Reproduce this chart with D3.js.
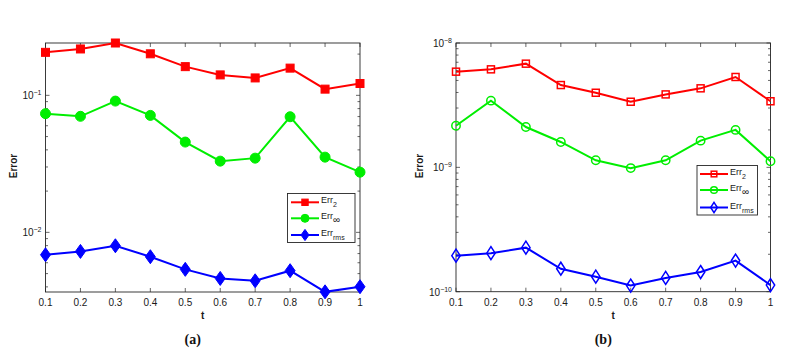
<!DOCTYPE html>
<html><head><meta charset="utf-8">
<script src="https://cdn.jsdelivr.net/npm/d3@7"></script>
<style>body{margin:0;background:#fff}svg{display:block}</style>
</head><body>
<svg id="c" width="800" height="352"></svg>
<script>
const tVals = [0.1,0.2,0.3,0.4,0.5,0.6,0.7,0.8,0.9,1.0];
const xTickLabels = ["0.1","0.2","0.3","0.4","0.5","0.6","0.7","0.8","0.9","1"];
// panel (a)
const a_err2 = [0.206,0.218,0.241,0.201,0.162,0.141,0.134,0.158,0.111,0.122];
const a_errInf = [0.0735,0.0703,0.0908,0.0714,0.0456,0.0331,0.0348,0.0698,0.0354,0.0275];
const a_errRms = [0.00686,0.00726,0.00798,0.00664,0.00537,0.00461,0.00443,0.00525,0.00368,0.00401];
// panel (b)
const b_err2 = [5.88e-9,6.14e-9,6.82e-9,4.59e-9,3.98e-9,3.37e-9,3.86e-9,4.32e-9,5.33e-9,3.40e-9];
const b_errInf = [2.16e-9,3.44e-9,2.11e-9,1.60e-9,1.14e-9,0.986e-9,1.14e-9,1.64e-9,2.00e-9,1.12e-9];
const b_errRms = [1.95e-10,2.04e-10,2.26e-10,1.53e-10,1.32e-10,1.12e-10,1.29e-10,1.44e-10,1.78e-10,1.13e-10];
const aYDomain = [0.00367, 0.241];
const bYDomain = [1e-10, 1e-8];
const aDecades = [-2,-1];
const bDecades = [-10,-9,-8];
const panelLabels = ["(a)","(b)"];
const seriesNames = [["Err","2"],["Err","\u221E"],["Err","rms"]];
const colors = ["#ff0000","#00ee00","#0000ff"];

const svg = d3.select("#c");
const FONT = "'Liberation Sans', Arial, Helvetica, sans-serif";
const axisCol = "#262626";

function panel(cfg){
  const {x0,x1,y0,y1,ydom,series,decades,filled,label,legend,ylabX} = cfg;
  const g = svg.append("g");
  const x = d3.scaleLinear().domain([0.1,1]).range([x0,x1]);
  const y = d3.scaleLog().domain(ydom).range([y1,y0]);
  const minor = [];
  for (let e=Math.floor(Math.log10(ydom[0])); e<=Math.ceil(Math.log10(ydom[1])); e++){
    for (let m=1;m<=9;m++){
      const v = m*Math.pow(10,e);
      if (v>=ydom[0]*0.999 && v<=ydom[1]*1.001) minor.push({v, major:m===1});
    }
  }
  const tg = g.append("g").attr("stroke",axisCol).attr("stroke-width",0.7);
  minor.forEach(d=>{
    const len = d.major?4:2.5;
    tg.append("line").attr("x1",x0).attr("x2",x0+len).attr("y1",y(d.v)).attr("y2",y(d.v));
    tg.append("line").attr("x1",x1).attr("x2",x1-len).attr("y1",y(d.v)).attr("y2",y(d.v));
  });
  tVals.forEach(v=>{
    tg.append("line").attr("x1",x(v)).attr("x2",x(v)).attr("y1",y1).attr("y2",y1-4);
    tg.append("line").attr("x1",x(v)).attr("x2",x(v)).attr("y1",y0).attr("y2",y0+4);
  });
  g.append("rect").attr("x",x0).attr("y",y0).attr("width",x1-x0).attr("height",y1-y0)
    .attr("fill","none").attr("stroke",axisCol).attr("stroke-width",0.9);
  tVals.forEach((v,i)=>{
    g.append("text").attr("x",x(v)).attr("y",y1+14).attr("text-anchor","middle")
      .attr("font-family",FONT).attr("font-size",10).attr("fill","#1a1a1a").text(xTickLabels[i]);
  });
  decades.forEach(e=>{
    const t = g.append("text").attr("x",x0-4).attr("y",y(Math.pow(10,e))+4).attr("text-anchor","end")
      .attr("font-family",FONT).attr("font-size",10).attr("fill","#1a1a1a");
    t.append("tspan").text("10");
    t.append("tspan").attr("dy",-4).attr("font-size",7).text("\u2212"+Math.abs(e));
  });
  g.append("text").attr("transform",`translate(${ylabX},166) rotate(-90)`).attr("text-anchor","middle")
    .attr("font-family",FONT).attr("font-size",10).attr("font-weight","bold").attr("fill","#1a1a1a").text("Error");
  g.append("text").attr("x",(x0+x1)/2).attr("y",319).attr("text-anchor","middle")
    .attr("font-family",FONT).attr("font-size",10).attr("font-weight","bold").attr("fill","#1a1a1a").text("t");
  g.append("text").attr("x",(x0+x1)/2-10).attr("y",344).attr("text-anchor","middle")
    .attr("font-family","'Liberation Serif','Times New Roman',serif").attr("font-size",14).attr("font-weight","bold").attr("fill","#111").text(label);

  const line = d3.line().x((d,i)=>x(tVals[i])).y(d=>y(d));
  function marker(sel, k, cx, cy, sc){
    const col = colors[k];
    const fill = filled?col:"none";
    const sw = filled?1:1.5;
    if (k===0){
      const s = (filled?8:7)*sc;
      sel.append("rect").attr("x",cx-s/2).attr("y",cy-s/2).attr("width",s).attr("height",s)
        .attr("fill",fill).attr("stroke",col).attr("stroke-width",sw);
    } else if (k===1){
      sel.append("circle").attr("cx",cx).attr("cy",cy).attr("r",(filled?5:4.2)*sc)
        .attr("fill",fill).attr("stroke",col).attr("stroke-width",sw);
    } else {
      const w = (filled?5:4.2)*sc, h = (filled?7:6.5)*sc;
      sel.append("path").attr("d",`M${cx},${cy-h}L${cx+w},${cy}L${cx},${cy+h}L${cx-w},${cy}Z`)
        .attr("fill",fill).attr("stroke",col).attr("stroke-width",sw);
    }
  }
  series.forEach((s,k)=>{
    g.append("path").datum(s).attr("d",line).attr("fill","none").attr("stroke",colors[k]).attr("stroke-width",2);
    const mg = g.append("g");
    s.forEach((v,i)=>marker(mg,k,x(tVals[i]),y(v),1));
  });
  const L = legend;
  g.append("rect").attr("x",L.x).attr("y",L.y).attr("width",L.w).attr("height",L.h)
    .attr("fill","#fff").attr("stroke",axisCol).attr("stroke-width",0.9);
  seriesNames.forEach((nm,k)=>{
    const yy = L.rows[k];
    g.append("line").attr("x1",L.lx0).attr("x2",L.lx1).attr("y1",yy).attr("y2",yy).attr("stroke",colors[k]).attr("stroke-width",2);
    marker(g,k,(L.lx0+L.lx1)/2,yy,0.8);
    const t = g.append("text").attr("x",L.lx1+2).attr("y",yy+1).attr("font-family",FONT).attr("font-size",9).attr("fill","#1a1a1a");
    t.append("tspan").text(nm[0]);
    t.append("tspan").attr("dy",4).attr("font-size",k===1?10:7).text(nm[1]);
  });
}

panel({x0:45.5,x1:360,y0:43,y1:292,ydom:aYDomain,series:[a_err2,a_errInf,a_errRms],decades:aDecades,filled:true,label:panelLabels[0],ylabX:17,
  legend:{x:287.5,y:193.5,w:67.5,h:49,rows:[202.3,218.3,235],lx0:291,lx1:319}});
panel({x0:456,x1:770.5,y0:43,y1:291.7,ydom:bYDomain,series:[b_err2,b_errInf,b_errRms],decades:bDecades,filled:false,label:panelLabels[1],ylabX:423,
  legend:{x:697,y:165.5,w:60.5,h:49.5,rows:[174,190,207.5],lx0:700,lx1:728}});
</script>
</body></html>
